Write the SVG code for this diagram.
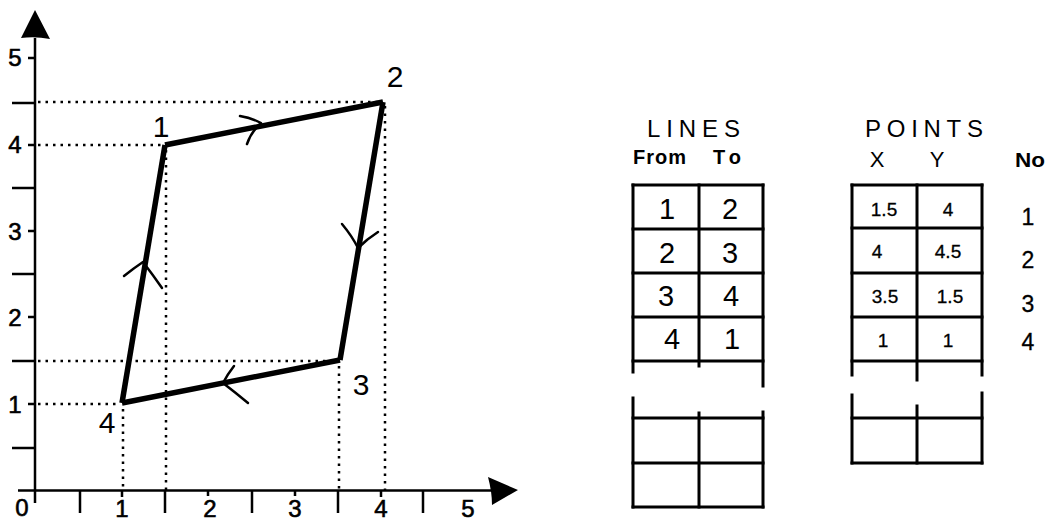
<svg xmlns="http://www.w3.org/2000/svg" width="1047" height="521" viewBox="0 0 1047 521">
<style>
text{font-family:"Liberation Sans",Arial,sans-serif;fill:#000}
.ax{stroke:#000;stroke-width:2.5;fill:none}
.dot{stroke:#000;stroke-width:2.5;stroke-dasharray:2.5 5;fill:none}
.edge{stroke:#000;stroke-width:5.5;fill:none;stroke-linejoin:miter}
.chev{stroke:#000;stroke-width:2.5;fill:none;stroke-linecap:round;stroke-linejoin:round}
.tb{stroke:#000;stroke-width:3;fill:none;stroke-linecap:square}
.al{font-size:24px;text-anchor:middle;stroke:#000;stroke-width:0.6}
.pl{font-size:30px;text-anchor:middle}
.tv{font-size:29px;text-anchor:middle}
.pv{font-size:19px;text-anchor:middle;stroke:#000;stroke-width:0.3}
.nv{font-size:23px;text-anchor:middle;stroke:#000;stroke-width:0.3}
</style>
<rect width="1047" height="521" fill="#fff"/>

<g id="axes">
  <path class="ax" d="M35,38 V503"/>
  <path class="ax" d="M18,490.5 H492"/>
  <path d="M35,10 L50,39 Q35,36 21,38 Z" fill="#000"/>
  <path d="M518,490 L492,505 Q492,492 488,477 Z" fill="#000"/>
  <path class="ax" d="M12,103 H35 M12,188 H35 M12,274 H35 M12,361 H35 M12,448 H35 M28,58 H35 M28,145 H35 M28,231 H35 M28,317 H35 M28,404 H35"/>
  <path class="ax" d="M80,490 V513 M165,490 V513 M252,490 V513 M338,490 V513 M423,490 V513 M122,490 V497 M208,490 V496 M295,490 V496 M381,490 V497"/>
  <text class="al" x="15" y="66">5</text>
  <text class="al" x="15" y="153">4</text>
  <text class="al" x="15" y="240">3</text>
  <text class="al" x="15" y="326">2</text>
  <text class="al" x="15" y="413">1</text>
  <text class="al" x="22" y="516">0</text>
  <text class="al" x="122" y="517">1</text>
  <text class="al" x="210" y="517">2</text>
  <text class="al" x="295" y="517">3</text>
  <text class="al" x="381" y="517">4</text>
  <text class="al" x="468" y="517">5</text>
</g>

<g id="guides">
  <path class="dot" d="M38,102 H380"/>
  <path class="dot" d="M38,145 H163"/>
  <path class="dot" d="M38,361 H338"/>
  <path class="dot" d="M38,404 H120"/>
  <path class="dot" d="M166,150 V490"/>
  <path class="dot" d="M385,106 V490"/>
  <path class="dot" d="M339,366 V490"/>
  <path class="dot" d="M123,409 V490"/>
</g>

<g id="connectors">
  <path class="edge" d="M165,145 L383,102"/>
  <path class="edge" d="M383,102 L340,360"/>
  <path class="edge" d="M340,360 L122,403"/>
  <path class="edge" d="M122,403 L165,145"/>
  <path class="chev" d="M240,116 Q252,118 261,123 Q251,132 247,144"/>
  <path class="chev" d="M342,224 Q352,236 358,248 Q367,239 378,232"/>
  <path class="chev" d="M234,366 Q227,375 223,383 Q236,393 248,403"/>
  <path class="chev" d="M124,276 Q134,268 143,262 Q153,275 162,288"/>
</g>

<g id="point1"><text class="pl" x="161" y="137">1</text></g>
<g id="point2"><text class="pl" x="395" y="87">2</text></g>
<g id="point3"><text class="pl" x="361" y="395">3</text></g>
<g id="point4"><text class="pl" x="107" y="433">4</text></g>

<g id="lines-table">
  <text x="647" y="137" font-size="24" textLength="93" lengthAdjust="spacing">LINES</text>
  <text x="633" y="164" font-size="20" font-weight="bold" letter-spacing="1">From</text>
  <text x="713" y="164" font-size="20" font-weight="bold" letter-spacing="5">To</text>
  <path class="tb" d="M633,185 H763 M633,229 H763 M633,273 H763 M633,317 H763 M633,361 H763"/>
  <path class="tb" d="M633,185 V372 M699,185 V366 M763,185 V386"/>
  <path class="tb" d="M633,418 H763 M633,463 H763 M633,507 H763"/>
  <path class="tb" d="M633,398 V507 M699,413 V507 M763,412 V507"/>
  <text class="tv" x="667" y="219">1</text><text class="tv" x="730" y="219">2</text>
  <text class="tv" x="667" y="263">2</text><text class="tv" x="730" y="263">3</text>
  <text class="tv" x="666" y="306">3</text><text class="tv" x="731" y="306">4</text>
  <text class="tv" x="672" y="349">4</text><text class="tv" x="732" y="349">1</text>
</g>

<g id="points-table">
  <text x="865" y="137" font-size="24" textLength="118" lengthAdjust="spacing">POINTS</text>
  <text x="877" y="167" font-size="22" text-anchor="middle">X</text>
  <text x="937" y="167" font-size="22" text-anchor="middle">Y</text>
  <text x="1015" y="167" font-size="21" font-weight="bold" textLength="30" lengthAdjust="spacingAndGlyphs">No</text>
  <path class="tb" d="M852,185 H982 M852,228 H982 M852,273 H982 M852,317 H982 M852,361 H982"/>
  <path class="tb" d="M852,185 V375 M917,185 V380 M982,185 V375"/>
  <path class="tb" d="M852,418 H982 M852,463 H982"/>
  <path class="tb" d="M852,395 V463 M917,406 V463 M982,393 V463"/>
  <text class="pv" x="884" y="216">1.5</text><text class="pv" x="948" y="216">4</text>
  <text class="pv" x="877" y="258">4</text><text class="pv" x="948" y="258">4.5</text>
  <text class="pv" x="885" y="303">3.5</text><text class="pv" x="950" y="303">1.5</text>
  <text class="pv" x="883" y="347">1</text><text class="pv" x="948" y="347">1</text>
  <text class="nv" x="1028" y="225">1</text>
  <text class="nv" x="1028" y="268">2</text>
  <text class="nv" x="1028" y="312">3</text>
  <text class="nv" x="1028" y="350">4</text>
</g>
</svg>
